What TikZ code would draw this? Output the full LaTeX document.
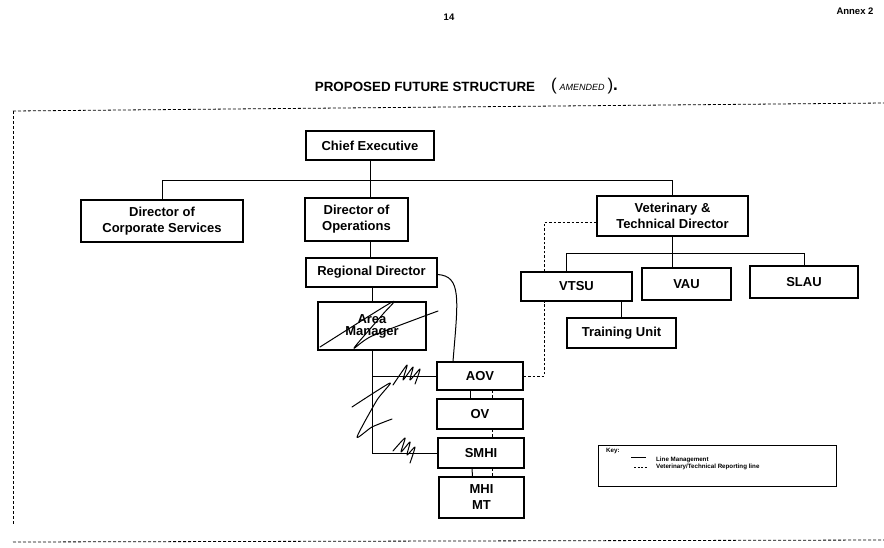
\documentclass[tikz,border=0pt]{standalone}
\usepackage{fontspec}
\setmainfont{Liberation Sans}

\tikzset{
  unitbox/.style={draw=black, line width=1.2pt, align=center, inner sep=0pt,
    font=\bfseries\fontsize{13}{16}\selectfont},
  mgmt/.style={black, line width=1pt},
  report/.style={black, line width=0.9pt, dash pattern=on 2.5pt off 2pt},
  framedash/.style={black, line width=0.8pt, dash pattern=on 3pt off 2pt},
  scribble/.style={black, line width=1pt, line cap=round, line join=round},
  keytext/.style={anchor=west, inner sep=0pt, font=\bfseries\fontsize{6.2}{7}\selectfont},
}

\begin{document}
\begin{tikzpicture}[x=1pt, y=-1pt]
        \useasboundingbox (0,0) rectangle (884,547);

        % page header and title
        \node[font=\bfseries\fontsize{9.5}{10}\selectfont] (pagenum) at (449,17) {14};
        \node[font=\bfseries\fontsize{9.5}{10}\selectfont, anchor=east] (annex) at (877,11) {Annex 2};
        \node[font=\bfseries\fontsize{13.4}{15}\selectfont] (title) at (425,87) {PROPOSED FUTURE STRUCTURE};
        \node[font=\fontsize{17}{18}\selectfont, anchor=west, inner sep=0pt] (amend) at (551,86)
            {(\,{\itshape\fontsize{9}{10}\selectfont AMENDED}\,)\textbf{.}};

        % dashed frame
        \draw[framedash] (13,111) -- (884,103);
        \draw[framedash] (13,111) -- (13,525);
        \draw[framedash] (13,542) -- (884,540);

        % boxes
        \node[unitbox, minimum width=128pt, minimum height=29pt] (chief) at (370,145.5) {Chief Executive};
        \node[unitbox, minimum width=162pt, minimum height=42pt] (corp) at (162,221) {Director of\\Corporate Services};
        \node[unitbox, minimum width=103pt, minimum height=43pt] (ops) at (356.5,219.5) {Director of\\Operations};
        \node[unitbox, minimum width=151pt, minimum height=40pt] (vet) at (672.5,216) {Veterinary \&\\Technical Director};
        \node[unitbox, minimum width=131pt, minimum height=29pt] (regdir) at (371.5,272.5) {Regional Director};
        \node[unitbox, minimum width=108pt, minimum height=48pt,
              font=\bfseries\fontsize{13}{12}\selectfont] (area) at (372,326) {Area\\Manager};
        \node[unitbox, minimum width=111pt, minimum height=29pt] (vtsu) at (576.5,286.5) {VTSU};
        \node[unitbox, minimum width=89pt, minimum height=32pt] (vau) at (686.5,284) {VAU};
        \node[unitbox, minimum width=108pt, minimum height=32pt] (slau) at (804,282) {SLAU};
        \node[unitbox, minimum width=109pt, minimum height=30pt] (train) at (621.5,333) {Training Unit};
        \node[unitbox, minimum width=86pt, minimum height=28pt] (aov) at (480,376) {AOV};
        \node[unitbox, minimum width=86pt, minimum height=30pt] (ov) at (480,414) {OV};
        \node[unitbox, minimum width=86pt, minimum height=30pt] (smhi) at (481,453) {SMHI};
        \node[unitbox, minimum width=85pt, minimum height=41pt] (mhi) at (481.5,497.5) {MHI\\MT};

        % line management
        \draw[mgmt] (corp.north) -- ++(0,-19) coordinate (topbar) -| (vet.north);
        \draw[mgmt] (chief.south) -- (chief.south |- ops.north);
        \draw[mgmt] (chief.south |- ops.south) -- (chief.south |- regdir.north);
        \draw[mgmt, line width=0.7pt] (area.north |- regdir.south) -- (area.north);
        \draw[mgmt] ([yshift=-2pt]regdir.east) .. controls (462,276) and (458,300) .. ([xshift=-27pt]aov.north);
        \draw[mgmt] (area.south) -- (area.south |- smhi.west) -- (smhi.west);
        \draw[mgmt] (area.south |- aov.west) -- (aov.west);
        \draw[mgmt] ([xshift=-10pt]aov.south) -- ([xshift=-10pt]ov.north);
        \draw[mgmt] ([xshift=-9pt]smhi.south) -- ([xshift=-9pt]mhi.north);
        \draw[mgmt] (vet.south) -- ++(0,17) coordinate (vbar);
        \draw[mgmt] ([xshift=-10pt]vtsu.north) |- (slau.north |- vbar) -- (slau.north);
        \draw[mgmt] (vau.north -| vbar) -- (vbar);
        \draw[mgmt] (train.north) -- (train.north |- vtsu.south);

        % veterinary/technical reporting
        \draw[report] (aov.east) -| ([xshift=-32pt]vtsu.south);
        \draw[report] ([xshift=-32pt]vtsu.north) |- ([yshift=-6pt]vet.west);
        \draw[report, line width=0.7pt] ([xshift=12pt]aov.south) -- ([xshift=12pt]ov.north);
        \draw[report, line width=0.7pt] ([xshift=12pt]ov.south) -- ([xshift=11pt]smhi.north);
        \draw[report, line width=0.7pt] ([xshift=11pt]smhi.south) -- ([xshift=10.5pt]mhi.north);

        % handwritten crossings-out
        \draw[scribble] plot[smooth, tension=0.4] coordinates {(320,347) (392,302) (383,314) (354,348) (372,336) (438,311)};
        \draw[scribble] plot[smooth, tension=0.4] coordinates {(393,385) (407,365) (403,380) (413,367) (410,380) (420,369) (415,384)};
        \draw[scribble] plot[smooth, tension=0.4] coordinates {(352,407) (390,383) (377,400) (357,437) (372,427) (392,419)};
        \draw[scribble] plot[smooth, tension=0.4] coordinates {(393,451) (405,438) (401,452) (410,442) (407,455) (415,447) (410,463)};

        % key
        \node[draw=black, line width=0.9pt, minimum width=238pt, minimum height=41pt] (key) at (717,466) {};
        \node[keytext] (keylbl) at (606,451) {Key:};
        \node[keytext] (lmtext) at (656,460) {Line Management};
        \node[keytext] (rltext) at (656,467) {Veterinary/Technical Reporting line};
        \draw[mgmt, line width=0.7pt] ([xshift=-25pt]lmtext.north west) -- ++(15,0);
        \draw[report, line width=0.7pt, dash pattern=on 2pt off 1.5pt] ([xshift=-22pt]rltext.west) -- ++(14,0);
      \end{tikzpicture}
\end{document}
